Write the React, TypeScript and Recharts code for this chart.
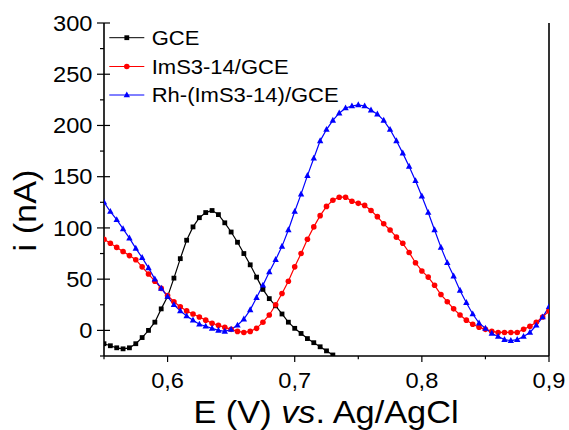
import { LineChart, Line, XAxis, YAxis } from 'recharts';

// Differential pulse voltammograms — GCE vs modified electrodes.
// Values (current in nA vs potential in V).

const E = [
  0.55, 0.555, 0.56, 0.565, 0.57, 0.575, 0.58, 0.585, 0.59, 0.595,
  0.6, 0.605, 0.61, 0.615, 0.62, 0.625, 0.63, 0.635, 0.64, 0.645,
  0.65, 0.655, 0.66, 0.665, 0.67, 0.675, 0.68, 0.685, 0.69, 0.695,
  0.7, 0.705, 0.71, 0.715, 0.72, 0.725, 0.73, 0.735, 0.74, 0.745,
  0.75, 0.755, 0.76, 0.765, 0.77, 0.775, 0.78, 0.785, 0.79, 0.795,
  0.8, 0.805, 0.81, 0.815, 0.82, 0.825, 0.83, 0.835, 0.84, 0.845,
  0.85, 0.855, 0.86, 0.865, 0.87, 0.875, 0.88, 0.885, 0.89, 0.895, 0.9,
];

// GCE — curve leaves the frame below -25 nA after 0.73 V
const GCE = [
  -13, -15, -17, -18, -17, -13, -7, 0, 8, 21,
  33, 51, 70, 88, 101, 110, 115, 117, 113, 105,
  96, 86, 75, 64, 52, 40, 31, 24, 16, 8,
  2, -3, -8, -12, -16, -20, -24,
];

const IMS = [
  89, 85, 81, 77, 73, 69, 62, 55, 48, 41,
  34, 28, 23, 19, 16, 13, 10, 7, 5, 3,
  1, -1, -2, -1, 2, 8, 15, 25, 36, 48,
  62, 75, 89, 101, 112, 121, 127, 130, 130, 126,
  124, 122, 117, 111, 104, 98, 91, 85, 76, 66,
  58, 52, 44, 35, 28, 21, 15, 10, 6, 3,
  1, -1, -2, -2, -2, -2, 1, 4, 8, 13, 19,
];

const RH = [
  125, 116, 108, 99, 90, 80, 71, 61, 50, 41,
  33, 25, 19, 14, 10, 6, 4, 2, 0, -1,
  1, 5, 11, 20, 32, 44, 57, 69, 82, 98,
  116, 133, 151, 168, 185, 196, 205, 212, 217, 219,
  220, 219, 215, 211, 205, 196, 185, 173, 160, 146,
  131, 115, 98, 81, 66, 53, 39, 27, 16, 7,
  2, -3, -6, -9, -10, -9, -6, -2, 5, 13, 23,
];

const SERIES_NAMES = ['GCE', 'ImS3-14/GCE', 'Rh-(ImS3-14)/GCE'];

const X_TICKS = [0.55, 0.6, 0.65, 0.7, 0.75, 0.8, 0.85, 0.9];
const Y_TICKS = [-25, 0, 25, 50, 75, 100, 125, 150, 175, 200, 225, 250, 275, 300];

const rows = E.map((e, i) => ({ e, gce: GCE[i], ims: IMS[i], rh: RH[i] }));

const FONT = "'Liberation Sans', Arial, Helvetica, sans-serif";
const SX = 1.1; // figure text is slightly wider than plain Arial

// chart is pinned to the page corner so body margin / scrollbars don't matter
const W = 569;
const H = 430;
const PLOT_LEFT = 104;
const PLOT_RIGHT = 549;
const PLOT_BOTTOM = 356;

const fmtComma = (v: number) => v.toFixed(1).replace('.', ',');

// ── markers ──────────────────────────────────────────────────────────────────
function Square({ cx, cy }: { cx: number; cy: number }) {
  return <rect x={cx - 2.4} y={cy - 2.4} width={4.8} height={4.8} fill="#000" />;
}
function Round({ cx, cy }: { cx: number; cy: number }) {
  return <circle cx={cx} cy={cy} r={2.8} fill="#FF0000" />;
}
function Tri({ cx, cy }: { cx: number; cy: number }) {
  return <polygon points={`${cx},${cy - 3.6} ${cx - 3.2},${cy + 2.3} ${cx + 3.2},${cy + 2.3}`} fill="#0000FF" />;
}
const MARKERS = [Square, Round, Tri];
const COLORS = ['#000000', '#FF0000', '#0000FF'];

function makeDot(i: number) {
  const M = MARKERS[i];
  return (p: any) => {
    if (p.cx == null || p.cy == null || p.value == null) return <g key={p.key ?? p.index} />;
    return <M key={p.key ?? p.index} cx={p.cx} cy={p.cy} />;
  };
}

// ── ticks ────────────────────────────────────────────────────────────────────
function XTick(p: any) {
  const v = p.payload.value as number;
  const major = Math.abs(v * 10 - Math.round(v * 10)) < 1e-6;
  const x = p.x;
  return (
    <g>
      <line x1={x} x2={x} y1={PLOT_BOTTOM} y2={PLOT_BOTTOM + (major ? 6 : 3.3)} stroke="#000" strokeWidth={1.2} />
      {major && (
        <text transform={`translate(${x},387.7) scale(${SX},1)`} textAnchor="middle" fontSize={21.5} fontFamily={FONT} fill="#000">
          {fmtComma(v)}
        </text>
      )}
    </g>
  );
}

function YTick(p: any) {
  const v = p.payload.value as number;
  const major = v % 50 === 0;
  const y = p.y;
  return (
    <g>
      <line x1={PLOT_LEFT - (major ? 7 : 4)} x2={PLOT_LEFT + (major ? 6 : 0)} y1={y} y2={y} stroke="#000" strokeWidth={1.2} />
      {major && (
        <text transform={`translate(92.5,${y + 7.7}) scale(${SX},1)`} textAnchor="end" fontSize={21.5} fontFamily={FONT} fill="#000">
          {v}
        </text>
      )}
    </g>
  );
}

function RTick(p: any) {
  const y = p.y;
  return <line x1={PLOT_RIGHT - 3} x2={PLOT_RIGHT} y1={y} y2={y} stroke="#000" strokeWidth={1} />;
}

// ── legend + axis titles (overlay) ──────────────────────────────────────────
const LEGEND_ROWS = [37.7, 66.5, 95];

function Overlay() {
  return (
    <svg width={W} height={H} style={{ position: 'absolute', left: 0, top: 0, pointerEvents: 'none' }}>
      {SERIES_NAMES.map((name, i) => {
        const y = LEGEND_ROWS[i];
        const M = MARKERS[i];
        return (
          <g key={name}>
            <line x1={109.3} x2={144.3} y1={y} y2={y} stroke={COLORS[i]} strokeWidth={1} />
            <M cx={126.8} cy={y} />
            <text transform={`translate(151.7,${y + 7.2}) scale(${SX},1)`} fontSize={20} fontFamily={FONT} fill="#000">
              {name}
            </text>
          </g>
        );
      })}
      <text transform={`translate(326,423.3) scale(1.09,1)`} textAnchor="middle" fontSize={31.5} fontFamily={FONT} fill="#000">
        E (V) <tspan fontStyle="italic">vs</tspan>. Ag/AgCl
      </text>
      <text transform={`translate(36,210.5) rotate(-90) scale(1.09,1)`} textAnchor="middle" fontSize={31.5} fontFamily={FONT} fill="#000">
        i (nA)
      </text>
    </svg>
  );
}

export default function App() {
  const axisLine = { stroke: '#000', strokeWidth: 1.6 };
  return (
    <div style={{ position: 'fixed', left: 0, top: 0, width: W, height: H, fontFamily: FONT, background: '#fff' }}>
      <LineChart width={W} height={H} data={rows} margin={{ top: 23, right: 19, left: 0, bottom: 0 }}>
        <XAxis dataKey="e" type="number" domain={[0.55, 0.9]} ticks={X_TICKS} interval={0} height={74}
          tick={XTick} tickLine={false} axisLine={axisLine} allowDataOverflow />
        <XAxis xAxisId="top" orientation="top" type="number" domain={[0.55, 0.9]} height={0}
          tick={false} tickLine={false} axisLine={axisLine} />
        <YAxis type="number" domain={[-25, 300]} ticks={Y_TICKS} interval={0} width={104}
          tick={YTick} tickLine={false} axisLine={axisLine} allowDataOverflow />
        <YAxis yAxisId="right" orientation="right" type="number" domain={[-25, 300]} ticks={Y_TICKS} interval={0} width={1}
          tick={RTick} tickLine={false} axisLine={axisLine} />
        <Line dataKey="gce" name={SERIES_NAMES[0]} stroke={COLORS[0]} strokeWidth={1.2} dot={makeDot(0)} isAnimationActive={false} />
        <Line dataKey="ims" name={SERIES_NAMES[1]} stroke={COLORS[1]} strokeWidth={1.2} dot={makeDot(1)} isAnimationActive={false} />
        <Line dataKey="rh" name={SERIES_NAMES[2]} stroke={COLORS[2]} strokeWidth={1.2} dot={makeDot(2)} isAnimationActive={false} />
      </LineChart>
      <Overlay />
    </div>
  );
}
